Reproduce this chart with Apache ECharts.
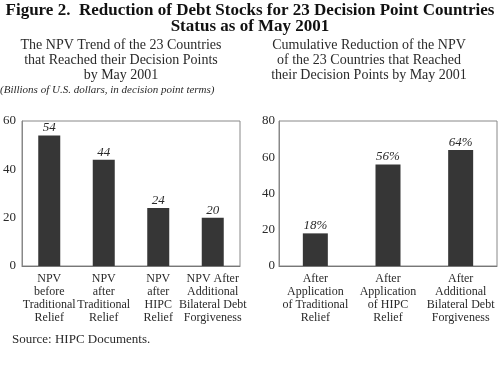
<!DOCTYPE html>
<html>
<head>
<meta charset="utf-8">
<script src="https://cdn.jsdelivr.net/npm/echarts@6/dist/echarts.min.js"></script>
<style>html,body{margin:0;padding:0;background:#fff}#c{width:500px;height:365px}</style>
</head>
<body>
<div id="c"></div>
<script>
var leftCategories = ['NPV\nbefore\nTraditional\nRelief', 'NPV\nafter\nTraditional\nRelief', 'NPV\nafter\nHIPC\nRelief', 'NPV After\nAdditional\nBilateral Debt\nForgiveness'];
var leftValues = [54, 44, 24, 20];
var rightCategories = ['After\nApplication\nof Traditional\nRelief', 'After\nApplication\nof HIPC\nRelief', 'After\nAdditional\nBilateral Debt\nForgiveness'];
var rightValues = [18, 56, 64];
var leftTicks = { min: 0, max: 60, interval: 20 };
var rightTicks = { min: 0, max: 80, interval: 20 };

var FONT = "'Liberation Serif', 'Times New Roman', serif";
var BAR = '#363636';
var TXT = '#2a2a2a';
var chart = echarts.init(document.getElementById('c'), null, { renderer: 'canvas' });

function xAx(idx, cats) {
  return {
    type: 'category', gridIndex: idx, data: cats,
    axisLine: { lineStyle: { color: '#777', width: 1 } },
    axisTick: { inside: true, length: 4, lineStyle: { color: '#777' } },
    axisLabel: { interval: 0, margin: 6, fontFamily: FONT, fontSize: 12, lineHeight: 13, color: TXT }
  };
}
function yAx(idx, t, m) {
  return {
    type: 'value', gridIndex: idx, min: t.min, max: t.max, interval: t.interval,
    axisLine: { show: true, lineStyle: { color: '#888' } },
    axisTick: { show: false }, splitLine: { show: false },
    axisLabel: { margin: m, fontFamily: FONT, fontSize: 13, color: TXT }
  };
}
function lbl(fmt) {
  return { show: true, position: 'top', distance: 1, formatter: fmt, fontFamily: FONT, fontStyle: 'italic', fontSize: 13, color: TXT };
}

chart.setOption({
  animation: false,
  backgroundColor: '#fff',
  grid: [
    { left: 18, top: 121, width: 222, height: 145, show: true, borderColor: '#888', borderWidth: 1 },
    { left: 279, top: 121, width: 218, height: 145, show: true, borderColor: '#888', borderWidth: 1 }
  ],
  xAxis: [xAx(0, leftCategories), xAx(1, rightCategories)],
  yAxis: [yAx(0, leftTicks, 6), yAx(1, rightTicks, 4)],
  series: [
    { type: 'bar', xAxisIndex: 0, yAxisIndex: 0, data: leftValues, barWidth: 22, itemStyle: { color: BAR }, label: lbl('{c}') },
    { type: 'bar', xAxisIndex: 1, yAxisIndex: 1, data: rightValues, barWidth: 25, itemStyle: { color: BAR }, label: lbl('{c}%') }
  ],
  graphic: [
    { type: 'text', x: 250, y: 3, style: { text: 'Figure 2.  Reduction of Debt Stocks for 23 Decision Point Countries\nStatus as of May 2001', textAlign: 'center', font: 'bold 17px ' + FONT, lineHeight: 16, fill: '#111' } },
    { type: 'text', x: 121, y: 38, style: { text: 'The NPV Trend of the 23 Countries\nthat Reached their Decision Points\nby May 2001', textAlign: 'center', font: '14px ' + FONT, lineHeight: 15, fill: TXT } },
    { type: 'text', x: 369, y: 38, style: { text: 'Cumulative Reduction of the NPV\nof the 23 Countries that Reached\ntheir Decision Points by May 2001', textAlign: 'center', font: '14px ' + FONT, lineHeight: 15, fill: TXT } },
    { type: 'text', x: 0, y: 85, style: { text: '(Billions of U.S. dollars, in decision point terms)', textAlign: 'left', font: 'italic 11px ' + FONT, fill: TXT } },
    { type: 'text', x: 12, y: 333, style: { text: 'Source: HIPC Documents.', textAlign: 'left', font: '13px ' + FONT, fill: TXT } }
  ]
});
</script>
</body>
</html>
